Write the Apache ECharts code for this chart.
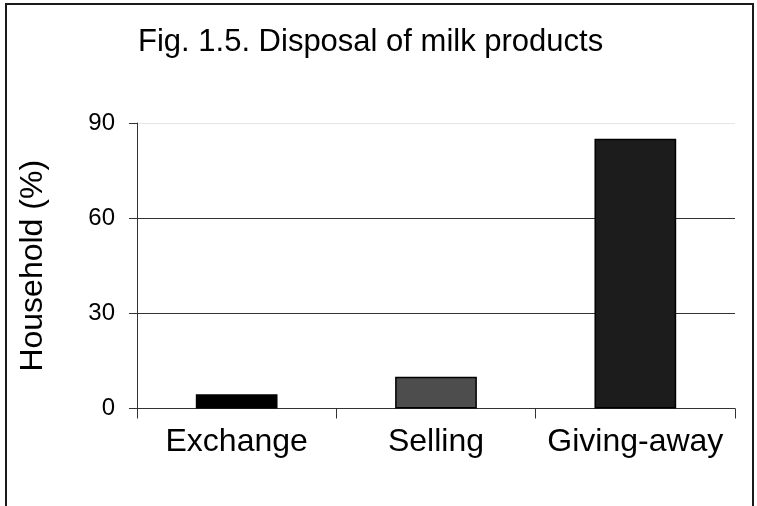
<!DOCTYPE html>
<html>
<head>
<meta charset="utf-8">
<script src="https://cdn.jsdelivr.net/npm/echarts@6/dist/echarts.min.js"></script>
<style>
html,body{margin:0;padding:0;background:#fff;}
#chart{width:757px;height:506px;}
</style>
</head>
<body>
<div id="chart"></div>
<script>
var titleText = "Fig. 1.5. Disposal of milk products";
var yAxisName = "Household (%)";
var categories = ["Exchange", "Selling", "Giving-away"];
var values = [4.5, 10, 85];
var barColors = ["#000000", "#4d4d4d", "#1c1c1c"];
var yMin = 0, yMax = 90, yInterval = 30;

var chart = echarts.init(document.getElementById('chart'), null, {renderer: 'canvas'});
var font = "'Liberation Sans', Arial, sans-serif";

var option = {
  backgroundColor: '#ffffff',
  animation: false,
  title: {
    text: titleText,
    left: 133,
    top: 22,
    textStyle: {fontFamily: font, fontSize: 31, fontWeight: 'normal', color: '#000'}
  },
  graphic: [{
    type: 'rect',
    shape: {x: 6, y: 4, width: 747, height: 540},
    style: {fill: 'none', stroke: '#1a1a1a', lineWidth: 2},
    silent: true
  }],
  grid: {left: 137, right: 22, top: 123, bottom: 97.5, containLabel: false},
  xAxis: {
    type: 'category',
    data: categories,
    axisLine: {lineStyle: {color: '#333', width: 1}},
    axisTick: {show: true, length: 10, interval: 0, lineStyle: {color: '#333'}},
    axisLabel: {fontFamily: font, fontSize: 32, color: '#000', margin: 18, interval: 0}
  },
  yAxis: {
    type: 'value',
    min: yMin, max: yMax, interval: yInterval,
    name: yAxisName,
    nameLocation: 'middle',
    nameGap: 88,
    nameTextStyle: {fontFamily: font, fontSize: 32, color: '#000'},
    axisLine: {show: true, lineStyle: {color: '#333', width: 1}},
    axisTick: {show: true, length: 8, lineStyle: {color: '#333'}},
    axisLabel: {fontFamily: font, fontSize: 24, color: '#000', margin: 22},
    splitLine: {show: true, lineStyle: {color: ['#333', '#333', '#333', '#e6e6e6'], width: 1}}
  },
  series: [{
    type: 'bar',
    barWidth: '41%',
    data: values.map(function (v, i) {
      return {value: v, itemStyle: {color: barColors[i]}};
    }),
    itemStyle: {borderColor: '#000', borderWidth: 1.5}
  }]
};
chart.setOption(option);
</script>
</body>
</html>
